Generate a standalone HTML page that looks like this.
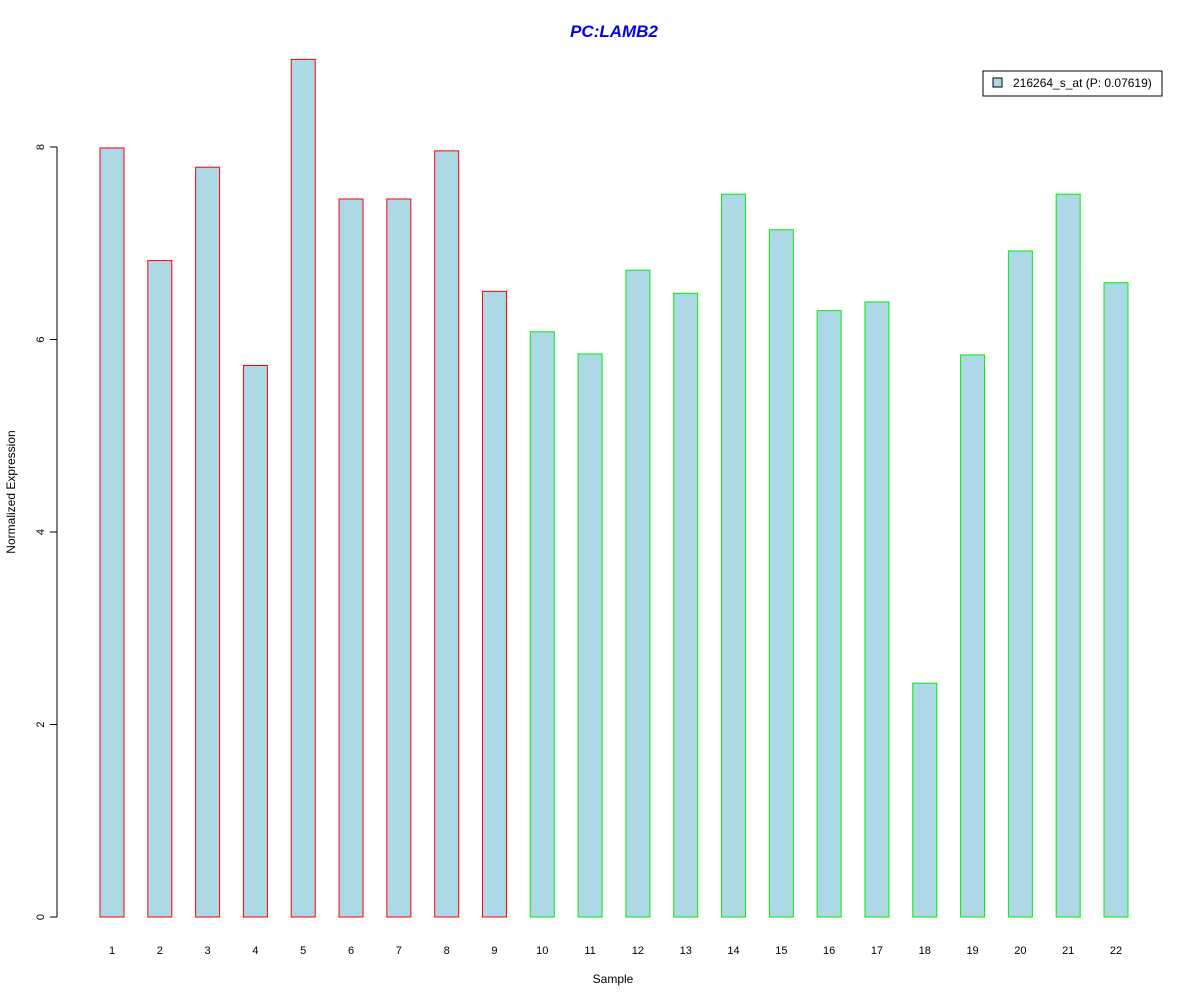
<!DOCTYPE html>
<html><head><meta charset="utf-8"><style>
body{margin:0;background:#fff;}
svg text{font-family:"Liberation Sans",Arial,sans-serif;}
</style></head><body>
<svg id="chart" width="1200" height="1000" xmlns="http://www.w3.org/2000/svg">
<rect width="1200" height="1000" fill="#fff"/>
<text x="614" y="37" text-anchor="middle" font-size="17" font-weight="bold" font-style="italic" fill="#0000ee">PC:LAMB2</text>
<text x="613" y="983" text-anchor="middle" font-size="12">Sample</text>
<text transform="translate(15,492) rotate(-90)" text-anchor="middle" font-size="12">Normalized Expression</text>
<g>
<rect x="983" y="71" width="179" height="25" fill="#fff" stroke="#000"/>
<rect x="993" y="78" width="9" height="9" fill="#add8e6" stroke="#000"/>
<text x="1013" y="87" font-size="12">216264_s_at (P: 0.07619)</text>
</g>
<g id="axes"></g>
<g id="bars"></g>
</svg>
<script>
const categories=["1","2","3","4","5","6","7","8","9","10","11","12","13","14","15","16","17","18","19","20","21","22"];
const values=[7.99,6.82,7.79,5.73,8.91,7.46,7.46,7.96,6.50,6.08,5.85,6.72,6.48,7.51,7.14,6.30,6.39,2.43,5.84,6.92,7.51,6.59];
const groups=["a","a","a","a","a","a","a","a","a","b","b","b","b","b","b","b","b","b","b","b","b","b"];
const yTicks=[0,2,4,6,8];
const NS="http://www.w3.org/2000/svg";
const y0=917,pxPerUnit=96.25;
function yScale(v){return y0-v*pxPerUnit;}
function xScale(i){return 112+i*(1116-112)/21;}
const bars=document.getElementById('bars');
const axes=document.getElementById('axes');
function mk(t,a,p){const e=document.createElementNS(NS,t);for(const k in a)e.setAttribute(k,a[k]);p.appendChild(e);return e;}
categories.forEach((c,i)=>{
  const x=xScale(i),top=yScale(values[i]);
  const r=mk('rect',{x:x-12,y:top,width:24,height:y0-top,fill:'#add8e6',stroke:groups[i]==='a'?'#ff0000':'#00ee00','stroke-width':1},bars);
  
  
  const t=mk('text',{x:x,y:954,'text-anchor':'middle','font-size':11},axes);
  t.textContent=c;
  
  
});
const axl=mk('line',{x1:57,x2:57,y1:yScale(yTicks[0]),y2:yScale(yTicks[yTicks.length-1]),stroke:'#000'},axes);


yTicks.forEach(v=>{
  const y=yScale(v);
  mk('line',{x1:50,x2:57,y1:y,y2:y,stroke:'#000'},axes);
  const t=mk('text',{transform:`translate(44,${y}) rotate(-90)`,'text-anchor':'middle','font-size':11},axes);
  t.textContent=v;
  
  
});
</script>
</body></html>
